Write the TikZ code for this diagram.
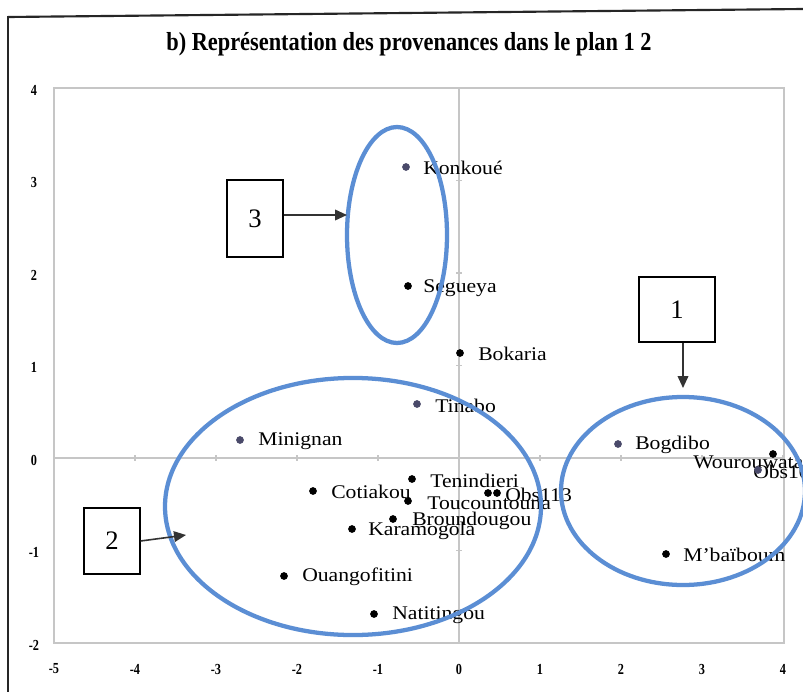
\documentclass[tikz,border=0pt]{standalone}
\usepackage{fontspec}
\setmainfont{Liberation Serif}
\usetikzlibrary{arrows.meta}
\definecolor{ellblue}{HTML}{5B8ED4}
\definecolor{dotslate}{HTML}{4A4A6A}
\definecolor{gridgray}{HTML}{C6C6C6}
\definecolor{arrowgray}{HTML}{333333}
\newcommand{\plab}[1]{\scalebox{1.12}[1]{#1}}
\begin{document}
\begin{tikzpicture}[x=0.75pt,y=-0.75pt,
  ptlabel/.style={anchor=west, inner sep=0pt, font=\fontsize{14.5}{16}\selectfont},
  ptdot/.style={circle, fill=black, inner sep=0pt, minimum size=5.8pt},
  sdot/.style={ptdot, fill=dotslate},
  group/.style={draw=ellblue, line width=3.2pt},
  numbox/.style={draw=black, line width=0.9pt, inner sep=0pt, fill=white, font=\fontsize{20}{22}\selectfont},
  callout/.style={draw=arrowgray, line width=1.2pt, -{Triangle[length=9pt,width=8pt]}},
  ticklab/.style={font=\bfseries\fontsize{11.5}{13}\selectfont, inner sep=0pt}
]
\useasboundingbox (0,0) rectangle (803,692);
\fill[white] (0,0) rectangle (803,692);
% outer frame
\draw[line width=1.6pt, black!85] (8,17) -- (803,9);
\draw[line width=1.6pt, black!85] (8,16.5) -- (8,692);
% title
\node[font=\bfseries\fontsize{19.5}{22}\selectfont, inner sep=0pt] (title) at (409,44)
  {\scalebox{0.86}[1]{b) Représentation des provenances dans le plan 1 2}};
% plot area
\draw[gridgray, line width=1.1pt] (54,88) rectangle (784,643);
\draw[gridgray, line width=0.8pt] (54,458) -- (784,458);
\draw[gridgray, line width=0.8pt] (459,88) -- (459,643);
\foreach \i in {-5,...,4} {
  \draw[gridgray, line width=0.8pt] ({459+81*\i},455) -- ({459+81*\i},461);
  \node[ticklab] (xl\i) at ({459+81*\i},669) {\scalebox{0.8}[1]{\i}};
}
\foreach \j in {-2,...,4} {
  \draw[gridgray, line width=0.8pt] (456,{458-92.5*\j}) -- (462,{458-92.5*\j});
  \node[ticklab] (yl\j) at (34,{460-92.5*\j}) {\scalebox{0.8}[1]{\j}};
}
% points and labels
\node[sdot] (konk) at (406,167) {};
\node[ptlabel] (konkl) at (423,168) {\plab{Konkoué}};
\node[ptdot] (segu) at (408,286) {};
\node[ptlabel] (segul) at (423,288) {\plab{Segueya}};
\node[ptdot] (boka) at (460,353) {};
\node[ptlabel] (bokal) at (478,354) {\plab{Bokaria}};
\node[sdot] (tina) at (417,404) {};
\node[ptlabel] (tinal) at (435,406) {\plab{Tinabo}};
\node[sdot] (mini) at (240,440) {};
\node[ptlabel] (minil) at (258,441) {\plab{Minignan}};
\node[sdot] (bogd) at (618,444) {};
\node[ptlabel] (bogdl) at (635,445) {\plab{Bogdibo}};
\node[ptlabel] (wourl) at (693,462) {\plab{Wourouwata}};
\node[ptdot] (wour) at (773,454) {};
\node[ptlabel] (obs10l) at (753,472) {\plab{Obs10}};
\node[sdot] (obs10) at (758,470) {};
\node[ptdot] (teni) at (412,479) {};
\node[ptlabel] (tenil) at (430,481) {\plab{Tenindieri}};
\node[ptdot] (coti) at (313,491) {};
\node[ptlabel] (cotil) at (331,492) {\plab{Cotiakou}};
\node[ptdot] (touc) at (408,501) {};
\node[ptlabel] (toucl) at (427,503) {\plab{Toucountouna}};
\node[ptdot] (obsa) at (488,493) {};
\node[ptdot] (obsb) at (497,493) {};
\node[ptlabel] (obsl) at (505,495) {\plab{Obs113}};
\node[ptdot] (brou) at (393,519) {};
\node[ptlabel] (broul) at (412,521) {\plab{Broundougou}};
\node[ptdot] (kara) at (352,529) {};
\node[ptlabel] (karal) at (368,531) {\plab{Karamogola}};
\node[ptdot] (mbai) at (666,554) {};
\node[ptlabel] (mbail) at (683,555) {\plab{M'baïboum}};
\node[ptdot] (ouan) at (284,576) {};
\node[ptlabel] (ouanl) at (302,577) {\plab{Ouangofitini}};
\node[ptdot] (nati) at (374,614) {};
\node[ptlabel] (natil) at (392,615) {\plab{Natitingou}};
% group ellipses
\draw[group] (397,235) ellipse [x radius=37.5pt, y radius=81pt];
\draw[group] (353,506.5) ellipse [x radius=141pt, y radius=96.4pt];
\draw[group] (683,491) ellipse [x radius=91.5pt, y radius=70.5pt];
% numbered boxes and callouts
\node[numbox, minimum width=42pt, minimum height=57.75pt] (b3) at (255,218.5) {3};
\node[numbox, minimum width=57pt, minimum height=48.75pt] (b1) at (677,309.5) {1};
\node[numbox, minimum width=42pt, minimum height=49.5pt] (b2) at (112,541) {2};
\coordinate (t3) at (347,215);
\coordinate (t1) at (683,388);
\coordinate (t2) at (186,535);
\draw[callout] (b3.east |- t3) -- (t3);
\draw[callout] (t1 |- b1.south) -- (t1);
\draw[callout] (b2.east) -- (t2);
\end{tikzpicture}
\end{document}
